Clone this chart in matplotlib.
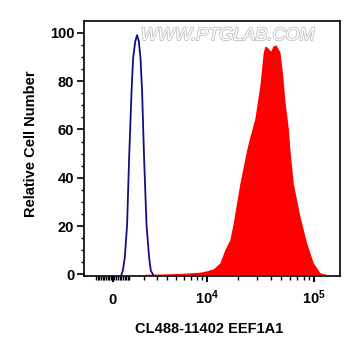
import numpy as np
import matplotlib
matplotlib.use('Agg')
import matplotlib.pyplot as plt
import matplotlib.patheffects as pe
from matplotlib.ticker import FixedLocator

plt.rcParams['font.family'] = ['Liberation Sans', 'DejaVu Sans']
plt.rcParams['mathtext.fontset'] = 'custom'
plt.rcParams['mathtext.rm'] = 'Liberation Sans'
plt.rcParams['mathtext.bf'] = 'Liberation Sans:bold'

# control sample (blue outline)
ctrl_x = [517, 596, 717, 858, 983, 1136, 1237, 1380, 1500, 1617, 1733, 1845,
          1988, 2166, 2366, 2499, 2683]
ctrl_y = [0, 1.5, 7, 20.6, 48, 75.6, 89.5, 96.5, 99, 96.5, 89.5, 75.6,
          48, 20.6, 7, 1.5, 0]

# stained sample (red filled)
stain_x = [2000, 3264, 4293, 5873, 8626, 10000, 11608, 13385, 14913, 16606, 17856,
           20605, 23799, 25200, 28409, 31630, 33935, 35184, 37000, 39711, 41800,
           44487, 48514, 51374, 53956, 57900, 59983, 64343, 74229, 85587, 98500,
           113552, 131019]
stain_y = [0.1, 0.2, 0.3, 0.5, 0.95, 1.5, 2.35, 4.8, 10.3, 14.4, 21.3,
           37.8, 51.5, 56, 64.6, 78.4, 92, 94.5, 94, 92.4, 94.5,
           95, 92, 82.5, 71.5, 60.5, 51.5, 37.8, 24, 13, 4.8,
           0.7, 0]

W = 2777.0  # width of the linear region of the biexponential-like axis

def fwd(x):
    return np.arcsinh(np.asarray(x) / W)

def inv(u):
    return W * np.sinh(np.asarray(u))

fig = plt.figure(figsize=(3.61, 3.56), dpi=100)
ax = fig.add_axes([0.2327, 0.2256, 0.7091, 0.7163])
ax.set_xscale('function', functions=(fwd, inv))

ax.fill_between(stain_x, stain_y, color='#ff0000', lw=0)
ax.plot(ctrl_x, ctrl_y, color='#101080', lw=1.3)

ax.set_xlim(-1807, 173800)
ax.set_ylim(-0.5, 105)

# x ticks
ax.xaxis.set_major_locator(FixedLocator([0, 1e4, 1e5]))
ax.set_xticklabels([r'$\mathbf{0}$', r'$\mathbf{10^{4}}$', r'$\mathbf{10^{5}}$'])
minors = [v for v in range(-1000, 1001, 100) if v != 0]
minors += list(range(2000, 10000, 1000)) + list(range(20000, 100000, 10000))
ax.xaxis.set_minor_locator(FixedLocator(minors))
ax.tick_params(axis='x', which='major', length=4.5, width=1.5, labelsize=10.5, pad=16)
ax.tick_params(axis='x', which='minor', length=3, width=1)
plt.setp(ax.get_xticklabels(), va='baseline')

# y ticks
ax.set_yticks([0, 20, 40, 60, 80, 100])
ax.set_yticks(np.arange(0, 101, 5), minor=True)
ax.tick_params(axis='y', which='major', length=5, width=1.2, labelsize=10.5, pad=2)
ax.tick_params(axis='y', which='minor', length=2.5, width=1)
for lab in ax.get_yticklabels():
    lab.set_fontweight('bold')

for s in ax.spines.values():
    s.set_linewidth(1.2)

ax.set_xlabel('CL488-11402 EEF1A1', fontsize=10.5, fontweight='bold')
ax.set_ylabel('Relative Cell Number', fontsize=10.5, fontweight='bold')
ax.xaxis.set_label_coords(0.487, -0.182)
ax.yaxis.set_label_coords(-0.18, 0.516)

# watermark
fig.text(0.63, 0.90, 'WWW.PTGLAB.COM', fontsize=13, fontstyle='italic',
         color='white', ha='center', va='center',
         path_effects=[pe.withStroke(linewidth=1.2, foreground='#c0c0c0')])

fig.savefig('out.png', dpi=100)
